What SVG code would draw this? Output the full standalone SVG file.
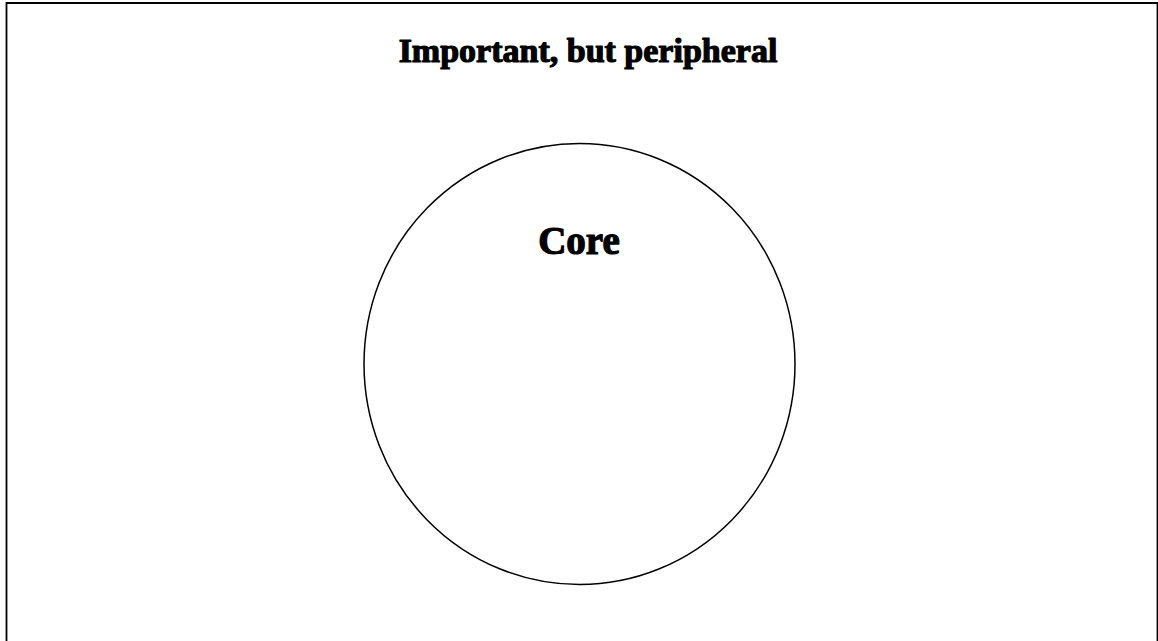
<svg xmlns="http://www.w3.org/2000/svg" width="1158" height="641" viewBox="0 0 1158 641">
<style>
.lbl{font-family:"Liberation Serif","DejaVu Serif",serif;font-weight:bold;fill:#000;stroke:#000;stroke-width:1.2;stroke-linejoin:round;text-anchor:middle}
.ln{fill:none;stroke:#000}
</style>
<rect x="0" y="0" width="1158" height="641" fill="#fff"/>
<g id="periphery">
<path class="ln" d="M6.5,641 V3 H1157.5 V641" stroke-width="1.8"/>
<text class="lbl" x="588" y="62" font-size="34">Important, but peripheral</text>
</g>
<g id="core">
<ellipse class="ln" cx="579.5" cy="364" rx="215.5" ry="220.5" stroke-width="1.5"/>
<text class="lbl" x="579" y="254" font-size="39">Core</text>
</g>
<g id="connectors"></g>
</svg>
